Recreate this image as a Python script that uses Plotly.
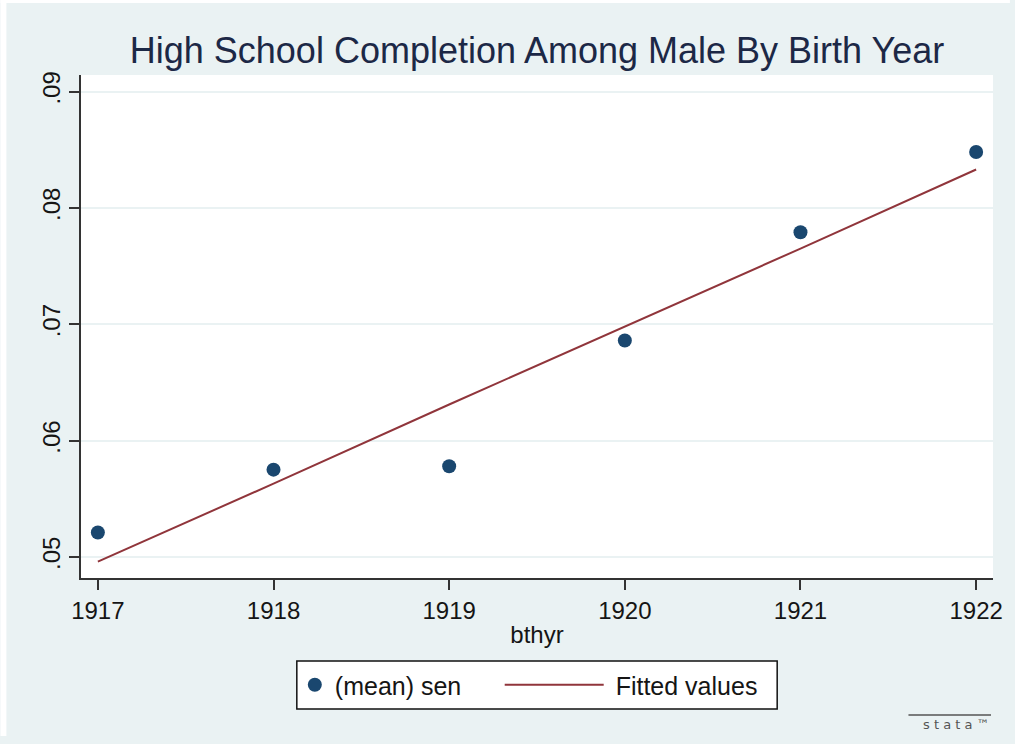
import plotly.graph_objects as go

years = [1917, 1918, 1919, 1920, 1921, 1922]
mean_sen = [0.0521, 0.0575, 0.0578, 0.0686, 0.0779, 0.0848]
fitted = [0.0496, 0.0563, 0.0631, 0.0698, 0.0765, 0.0833]
y_ticks = [0.05, 0.06, 0.07, 0.08, 0.09]
y_labels = [".05", ".06", ".07", ".08", ".09"]

BG = "#EAF2F3"
TXT = "#1c2846"
DARK = "#151515"
FONT = "Liberation Sans, Arial, sans-serif"

W, H = 1015, 736          # page below the figure is painted with the same colour
L, R, T, B = 81, 17, 75, 736 - 578
PW, PH = W - L - R, H - T - B


def px_x(sx):
    # screen x -> paper x
    return (sx - L) / PW


def px_y(sy):
    return (H - B - sy) / PH


fig = go.Figure()
fig.add_trace(go.Scatter(
    x=years, y=mean_sen, mode="markers", name="(mean) sen", legend="legend",
    marker=dict(color="#1a476f", size=14, line=dict(width=0)),
))
fig.add_trace(go.Scatter(
    x=years, y=fitted, mode="lines", name="\u00a0Fitted values", legend="legend2",
    line=dict(color="#90353b", width=2),
))

leg_common = dict(
    orientation="h", yanchor="middle", y=px_y(685), xanchor="left",
    bgcolor="rgba(0,0,0,0)", borderwidth=0,
    font=dict(size=25, color=DARK, family=FONT),
)

fig.update_layout(
    width=W, height=H,
    paper_bgcolor=BG, plot_bgcolor="white",
    margin=dict(l=L, r=R, t=T, b=B),
    font=dict(family=FONT, color=DARK),
    title=dict(text="High School Completion Among Male By Birth Year",
               x=0.5, xanchor="center", xref="paper",
               y=1 - 50 / H, yanchor="middle",
               font=dict(size=36, color=TXT, family=FONT)),
    xaxis=dict(
        range=[1916.904, 1922.096], tickvals=years, ticktext=[str(y) for y in years],
        showgrid=False, zeroline=False, showline=True, linecolor="#333", linewidth=1.5,
        ticks="outside", ticklen=10, tickwidth=1.5, tickcolor="#333",
        tickfont=dict(size=24, color=DARK, family=FONT),
        title=dict(text="bthyr", font=dict(size=24, color=DARK, family=FONT), standoff=4),
    ),
    yaxis=dict(
        range=[0.04819, 0.09142], tickvals=y_ticks, ticktext=y_labels, tickangle=-90,
        showgrid=True, gridcolor=BG, gridwidth=2, zeroline=False,
        showline=True, linecolor="#333", linewidth=1.5,
        ticks="outside", ticklen=10, tickwidth=1.5, tickcolor="#333",
        tickfont=dict(size=24, color=DARK, family=FONT),
    ),
    legend=dict(x=px_x(296), itemwidth=30, **leg_common),
    legend2=dict(x=px_x(502), itemwidth=99, **leg_common),
    showlegend=True,
)

# legend frame
fig.add_shape(type="rect", xref="paper", yref="paper", layer="below",
              x0=px_x(298), x1=px_x(781), y0=px_y(709), y1=px_y(661),
              fillcolor="white", line=dict(color="#111", width=1.5))

# thin white page edges seen in the original image
fig.add_shape(type="rect", xref="paper", yref="paper", layer="above",
              x0=px_x(0), x1=px_x(6), y0=px_y(H), y1=px_y(0),
              fillcolor="white", line=dict(width=0))
fig.add_shape(type="rect", xref="paper", yref="paper", layer="above",
              x0=px_x(0), x1=px_x(W), y0=px_y(3), y1=px_y(0),
              fillcolor="white", line=dict(width=0))

# stata logo
fig.add_annotation(
    xref="paper", yref="paper", x=px_x(997), y=px_y(724), xanchor="right", yanchor="middle",
    text="s t a t a ™", showarrow=False,
    font=dict(size=13, color="#555", family="DejaVu Sans"),
)
fig.add_shape(type="line", xref="paper", yref="paper",
              x0=px_x(913), x1=px_x(996), y0=px_y(715), y1=px_y(715),
              line=dict(color="#555", width=1.5))

fig.write_html(
    "out.html",
    config={"displayModeBar": False},
    post_script=(
        "document.body.style.margin='0';"
        "document.body.style.background='%s';"
        "document.documentElement.style.background='%s';"
        "document.documentElement.style.overflow='hidden';" % (BG, BG)
    ),
)
